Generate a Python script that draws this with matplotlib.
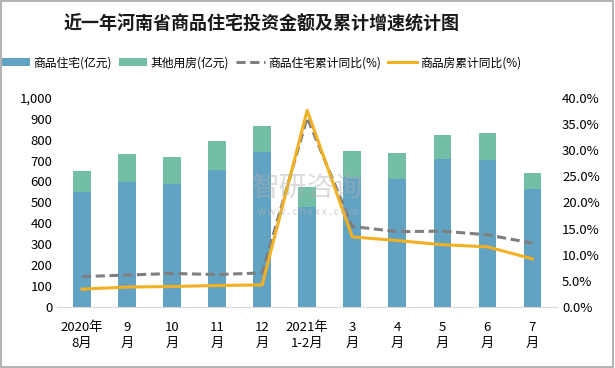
import matplotlib
matplotlib.use('Agg')
from matplotlib import pyplot
from matplotlib.patches import Rectangle
from matplotlib.ticker import FuncFormatter
import numpy as np

pyplot.rcParams['font.family'] = ['Noto Sans CJK SC', 'DejaVu Sans']

months = ['2020年\n8月', '9\n月', '10\n月', '11\n月', '12\n月', '2021年\n1-2月',
          '3\n月', '4\n月', '5\n月', '6\n月', '7\n月']
residential = [552, 599, 590, 657, 743, 477, 620, 614, 710, 705, 566]
other = [100, 134, 129, 139, 124, 95, 128, 124, 114, 129, 77]
residential_yoy = [5.8, 6.1, 6.4, 6.2, 6.5, 36.2, 15.4, 14.4, 14.5, 13.8, 12.2]
housing_yoy = [3.4, 3.8, 3.9, 4.1, 4.2, 37.6, 13.4, 12.7, 11.9, 11.5, 9.2]

blue = '#62a3c3'
green = '#74bea6'
grey = '#7f7f7f'
orange = '#f2b122'

fig = pyplot.figure(figsize=(6.15, 3.68), dpi=100)
fig.patches.append(Rectangle((0.002, 0.003), 0.995, 0.994, transform=fig.transFigure,
                             fill=False, edgecolor='#a6a6a6', linewidth=1.2))

ax = fig.add_axes([0.093, 0.166, 0.813, 0.568])
x = np.arange(len(months))
b1 = ax.bar(x, residential, width=0.39, color=blue, label='商品住宅(亿元)')
b2 = ax.bar(x, other, width=0.39, bottom=residential, color=green, label='其他用房(亿元)')

ax.set_ylim(0, 1000)
ax.set_xlim(-0.55, len(months) - 0.45)
ax.set_yticks(range(0, 1001, 100))
ax.yaxis.set_major_formatter(FuncFormatter(lambda v, p: f'{int(v):,}'))
ax.set_xticks(x)
ax.set_xticklabels(months, fontsize=9.5, linespacing=1.3)
ax.tick_params(axis='both', length=0, labelsize=9.5)
ax.tick_params(axis='x', pad=10)
for s in ['top', 'left', 'right']:
    ax.spines[s].set_visible(False)
ax.spines['bottom'].set_color('#d9d9d9')

ax2 = ax.twinx()
l1, = ax2.plot(x, residential_yoy, color=grey, linestyle=(0, (3, 1.5)), linewidth=2.2,
               label='商品住宅累计同比(%)')
l2, = ax2.plot(x, housing_yoy, color=orange, linewidth=2.2, label='商品房累计同比(%)')
ax2.set_ylim(0, 40)
ax2.set_yticks(np.arange(0, 40.1, 5))
ax2.yaxis.set_major_formatter(FuncFormatter(lambda v, p: f'{v:.1f}%'))
ax2.tick_params(axis='y', length=0, labelsize=9.5)
for s in ['top', 'left', 'right', 'bottom']:
    ax2.spines[s].set_visible(False)

# watermark
fig.text(0.50, 0.49, '智研咨询', fontsize=20, color='#b0b0b0', alpha=0.45,
         ha='center', va='center')
fig.text(0.50, 0.425, 'w w w . c h y x x . c o m', fontsize=7, color='#b0b0b0',
         alpha=0.6, ha='center', va='center')

fig.text(0.425, 0.935, '近一年河南省商品住宅投资金额及累计增速统计图', fontsize=13,
         fontweight='bold', ha='center', va='center', color='#1a1a1a')

fig.legend(handles=[b1, b2, l1, l2], loc='center', bbox_to_anchor=(0.425, 0.83),
           ncol=4, frameon=False, fontsize=8.5, handlelength=2.4, columnspacing=0.6,
           handletextpad=0.3)

fig.savefig('out.png', dpi=100)
